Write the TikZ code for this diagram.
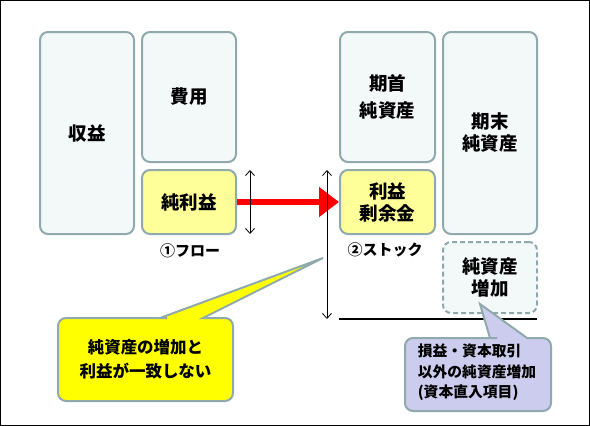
\documentclass[tikz,border=0pt]{standalone}
\usepackage{fontspec}
\newfontfamily\jp{Noto Sans CJK JP}
\usetikzlibrary{arrows.meta}
\definecolor{bordc}{HTML}{8FA9AC}
\definecolor{boxc}{HTML}{F3F8F9}
\definecolor{lyel}{HTML}{FFFF99}
\definecolor{cyel}{HTML}{FFFF00}
\definecolor{cpur}{HTML}{CCCCEE}
\begin{document}
\begin{tikzpicture}[x=1pt,y=-1pt,
  box/.style={draw=bordc,line width=2pt,rounded corners=8pt,fill=boxc,inner sep=0pt,align=center,
    font=\jp\bfseries\fontsize{18.5}{22}\selectfont},
  ybox/.style={box,fill=lyel},
  dbox/.style={box,dash pattern=on 5pt off 3pt},
  thinarrow/.style={line width=0.8pt,{Straight Barb[length=5pt,width=9pt]}-{Straight Barb[length=5pt,width=9pt]}},
  redarrow/.style={draw=red,line width=6pt,-{Triangle[length=20pt,width=29pt]}},
  lbl/.style={font=\jp\bfseries\fontsize{15}{18}\selectfont,inner sep=0pt},
  callout/.style={draw=bordc,line width=2pt},
]
\useasboundingbox (0,0) rectangle (590,426);
\draw[line width=1pt] (0.5,0.5) rectangle (589.5,425.5);

\node[box,minimum width=94pt,minimum height=202pt] (shueki) at (87,133) {収益};
\node[box,minimum width=94pt,minimum height=130pt] (hiyou) at (189,97) {費用};
\node[ybox,minimum width=94pt,minimum height=64pt] (junrieki) at (189,202) {純利益};
\node[box,minimum width=95pt,minimum height=130pt] (kishu) at (387.5,97) {期首\\[5pt]純資産};
\node[ybox,minimum width=95pt,minimum height=64pt] (rieki) at (387.5,202) {利益\\剰余金};
\node[box,minimum width=94pt,minimum height=202pt] (kimatsu) at (490,133) {期末\\純資産};
\node[dbox,minimum width=94pt,minimum height=71pt] (zouka) at (490,277.5) {純資産\\増加};

\node[lbl] (flow) at (190,251) {①フロー};
\node[lbl] (stock) at (385,250) {②ストック};

\draw[redarrow] (junrieki.east) -- (rieki.west);

\coordinate (la1) at (250,170);
\coordinate (la2) at (250,234);
\draw[thinarrow] (la1) -- (la2);
\coordinate (ra1) at (327,170);
\coordinate (ra2) at (327,319);
\draw[thinarrow] (ra1) -- (ra2);

\coordinate (bl1) at (339,319);
\coordinate (bl2) at (537,319);
\draw[line width=2pt] (bl1) -- (bl2);

% yellow callout
\coordinate (ytip) at (323,258);
\filldraw[callout,fill=cyel] (58,360) [rounded corners=8pt] -- (58,318) -- (159,318) [sharp corners] -- (160,318) -- (ytip) -- (203,318) -- (204,318) [rounded corners=8pt] -- (233,318) -- (233,401) -- (58,401) -- cycle;
\node[align=center,inner sep=0pt,font=\jp\bfseries\fontsize{16.5}{24}\selectfont] (ytext) at (145.5,359) {純資産の増加と\\利益が一致しない};

% purple callout
\coordinate (ptip) at (480,304);
\filldraw[callout,fill=cpur] (405,380) [rounded corners=8pt] -- (405,338) -- (489,338) [sharp corners] -- (490,338) -- (ptip) -- (527,338) -- (528,338) [rounded corners=8pt] -- (551,338) -- (551,411) -- (405,411) -- cycle;
\node[align=left,inner sep=0pt,font=\jp\bfseries\fontsize{14.8}{20.5}\selectfont] (ptext) at (477,372.5) {損益・資本取引\\以外の純資産増加\\(資本直入項目)};
\end{tikzpicture}
\end{document}
